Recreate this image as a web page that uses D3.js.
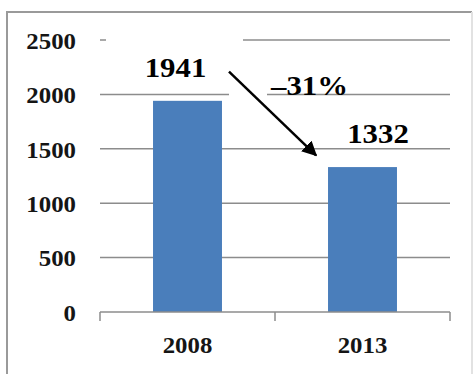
<!DOCTYPE html>
<html>
<head>
<meta charset="utf-8">
<script src="https://cdn.jsdelivr.net/npm/d3@7"></script>
<style>
  html, body { margin: 0; padding: 0; background: #fff; }
  svg { display: block; }
  text { font-family: "Liberation Serif", "Times New Roman", Times, "DejaVu Serif", serif; font-weight: bold; }
</style>
</head>
<body>
<svg id="chart" width="476" height="374"></svg>
<script>
// Chart data
const categories = ["2008", "2013"];
const values = [1941, 1332];
const yTicks = [0, 500, 1000, 1500, 2000, 2500];
const changeLabel = "\u201331%";

const svg = d3.select("#chart");

// Outer frame
svg.append("path")
  .attr("d", "M7,374 V12 H472")
  .attr("fill", "none").attr("stroke", "#9a9a9a").attr("stroke-width", 2);
svg.append("line")
  .attr("x1", 472).attr("x2", 472).attr("y1", 12).attr("y2", 374)
  .attr("stroke", "#e2e2e2").attr("stroke-width", 2);

const x = d3.scaleBand().domain(categories).range([100, 450])
  .paddingInner(0.606).paddingOuter(0.303);
const y = d3.scaleLinear().domain([0, 2500]).range([312, 40]);

// Gridlines
svg.append("g").selectAll("line").data(yTicks.slice(1)).join("line")
  .attr("x1", 100).attr("x2", 450)
  .attr("y1", d => y(d)).attr("y2", d => y(d))
  .attr("stroke", "#8c8c8c").attr("stroke-width", 1.5);

// Y axis labels
const yAxis = svg.append("g").attr("transform", "translate(76,0)")
  .call(d3.axisLeft(y).tickValues(yTicks).tickFormat(d3.format("d")).tickSize(0).tickPadding(0));
yAxis.select(".domain").remove();
yAxis.attr("font-family", null).attr("font-size", null);
yAxis.selectAll("text")
  .attr("dy", "0.36em")
  .attr("fill", "#151515")
  .style("font-size", "23px")
  .attr("transform", "scale(1.08,1)");

// Bars
svg.append("g").selectAll("rect").data(values).join("rect")
  .attr("x", (d, i) => x(categories[i]))
  .attr("width", x.bandwidth())
  .attr("y", d => y(d))
  .attr("height", d => y(0) - y(d))
  .attr("fill", "#4a7ebb");

// X axis with category ticks at band edges
const edges = [100, 100 + x.step(), 100 + 2 * x.step()];
const xa = svg.append("g");
xa.append("line").attr("x1", 100).attr("x2", 450).attr("y1", y(0)).attr("y2", y(0))
  .attr("stroke", "#8c8c8c").attr("stroke-width", 1.5);
xa.selectAll("line.tick").data(edges).join("line").attr("class", "tick")
  .attr("x1", d => d).attr("x2", d => d).attr("y1", y(0)).attr("y2", y(0) + 9)
  .attr("stroke", "#8c8c8c").attr("stroke-width", 1.5);
xa.selectAll("text").data(categories).join("text")
  .attr("transform", d => `translate(${x(d) + x.bandwidth() / 2},353) scale(1.08,1)`)
  .attr("text-anchor", "middle")
  .style("font-size", "23px")
  .attr("fill", "#151515")
  .text(d => d);

// White backing behind annotation boxes
svg.append("rect").attr("x", 106).attr("y", 37).attr("width", 137).attr("height", 50).attr("fill", "#fff");
svg.append("rect").attr("x", 229).attr("y", 91).attr("width", 38).attr("height", 6).attr("fill", "#fff");

// Value labels
const offsets = [-12, 15.5];
svg.append("g").selectAll("text").data(values).join("text")
  .attr("transform", (d, i) =>
    `translate(${x(categories[i]) + x.bandwidth() / 2 + offsets[i]},${y(d) - 24}) scale(1.1,1)`)
  .attr("text-anchor", "middle")
  .style("font-size", "28px")
  .attr("fill", "#000")
  .text(d => d);

// Change arrow from first bar to second
const defs = svg.append("defs");
defs.append("marker").attr("id", "head")
  .attr("viewBox", "0 0 10 10").attr("refX", 9).attr("refY", 5)
  .attr("markerWidth", 6).attr("markerHeight", 6).attr("markerUnits", "strokeWidth")
  .attr("orient", "auto")
  .append("path").attr("d", "M0,0 L10,5 L0,10 Z").attr("fill", "#000");

const x0 = x(categories[0]) + x.bandwidth() + 7, y0 = y(2210);
const x1 = x(categories[1]) - 12, y1 = y(1440);
svg.append("line")
  .attr("x1", x0).attr("y1", y0).attr("x2", x1).attr("y2", y1)
  .attr("stroke", "#000").attr("stroke-width", 2.5)
  .attr("marker-end", "url(#head)");

svg.append("text")
  .attr("transform", "translate(309.5,95) scale(1.1,1)")
  .attr("text-anchor", "middle")
  .style("font-size", "28px")
  .attr("fill", "#000")
  .text(changeLabel);
</script>
</body>
</html>
